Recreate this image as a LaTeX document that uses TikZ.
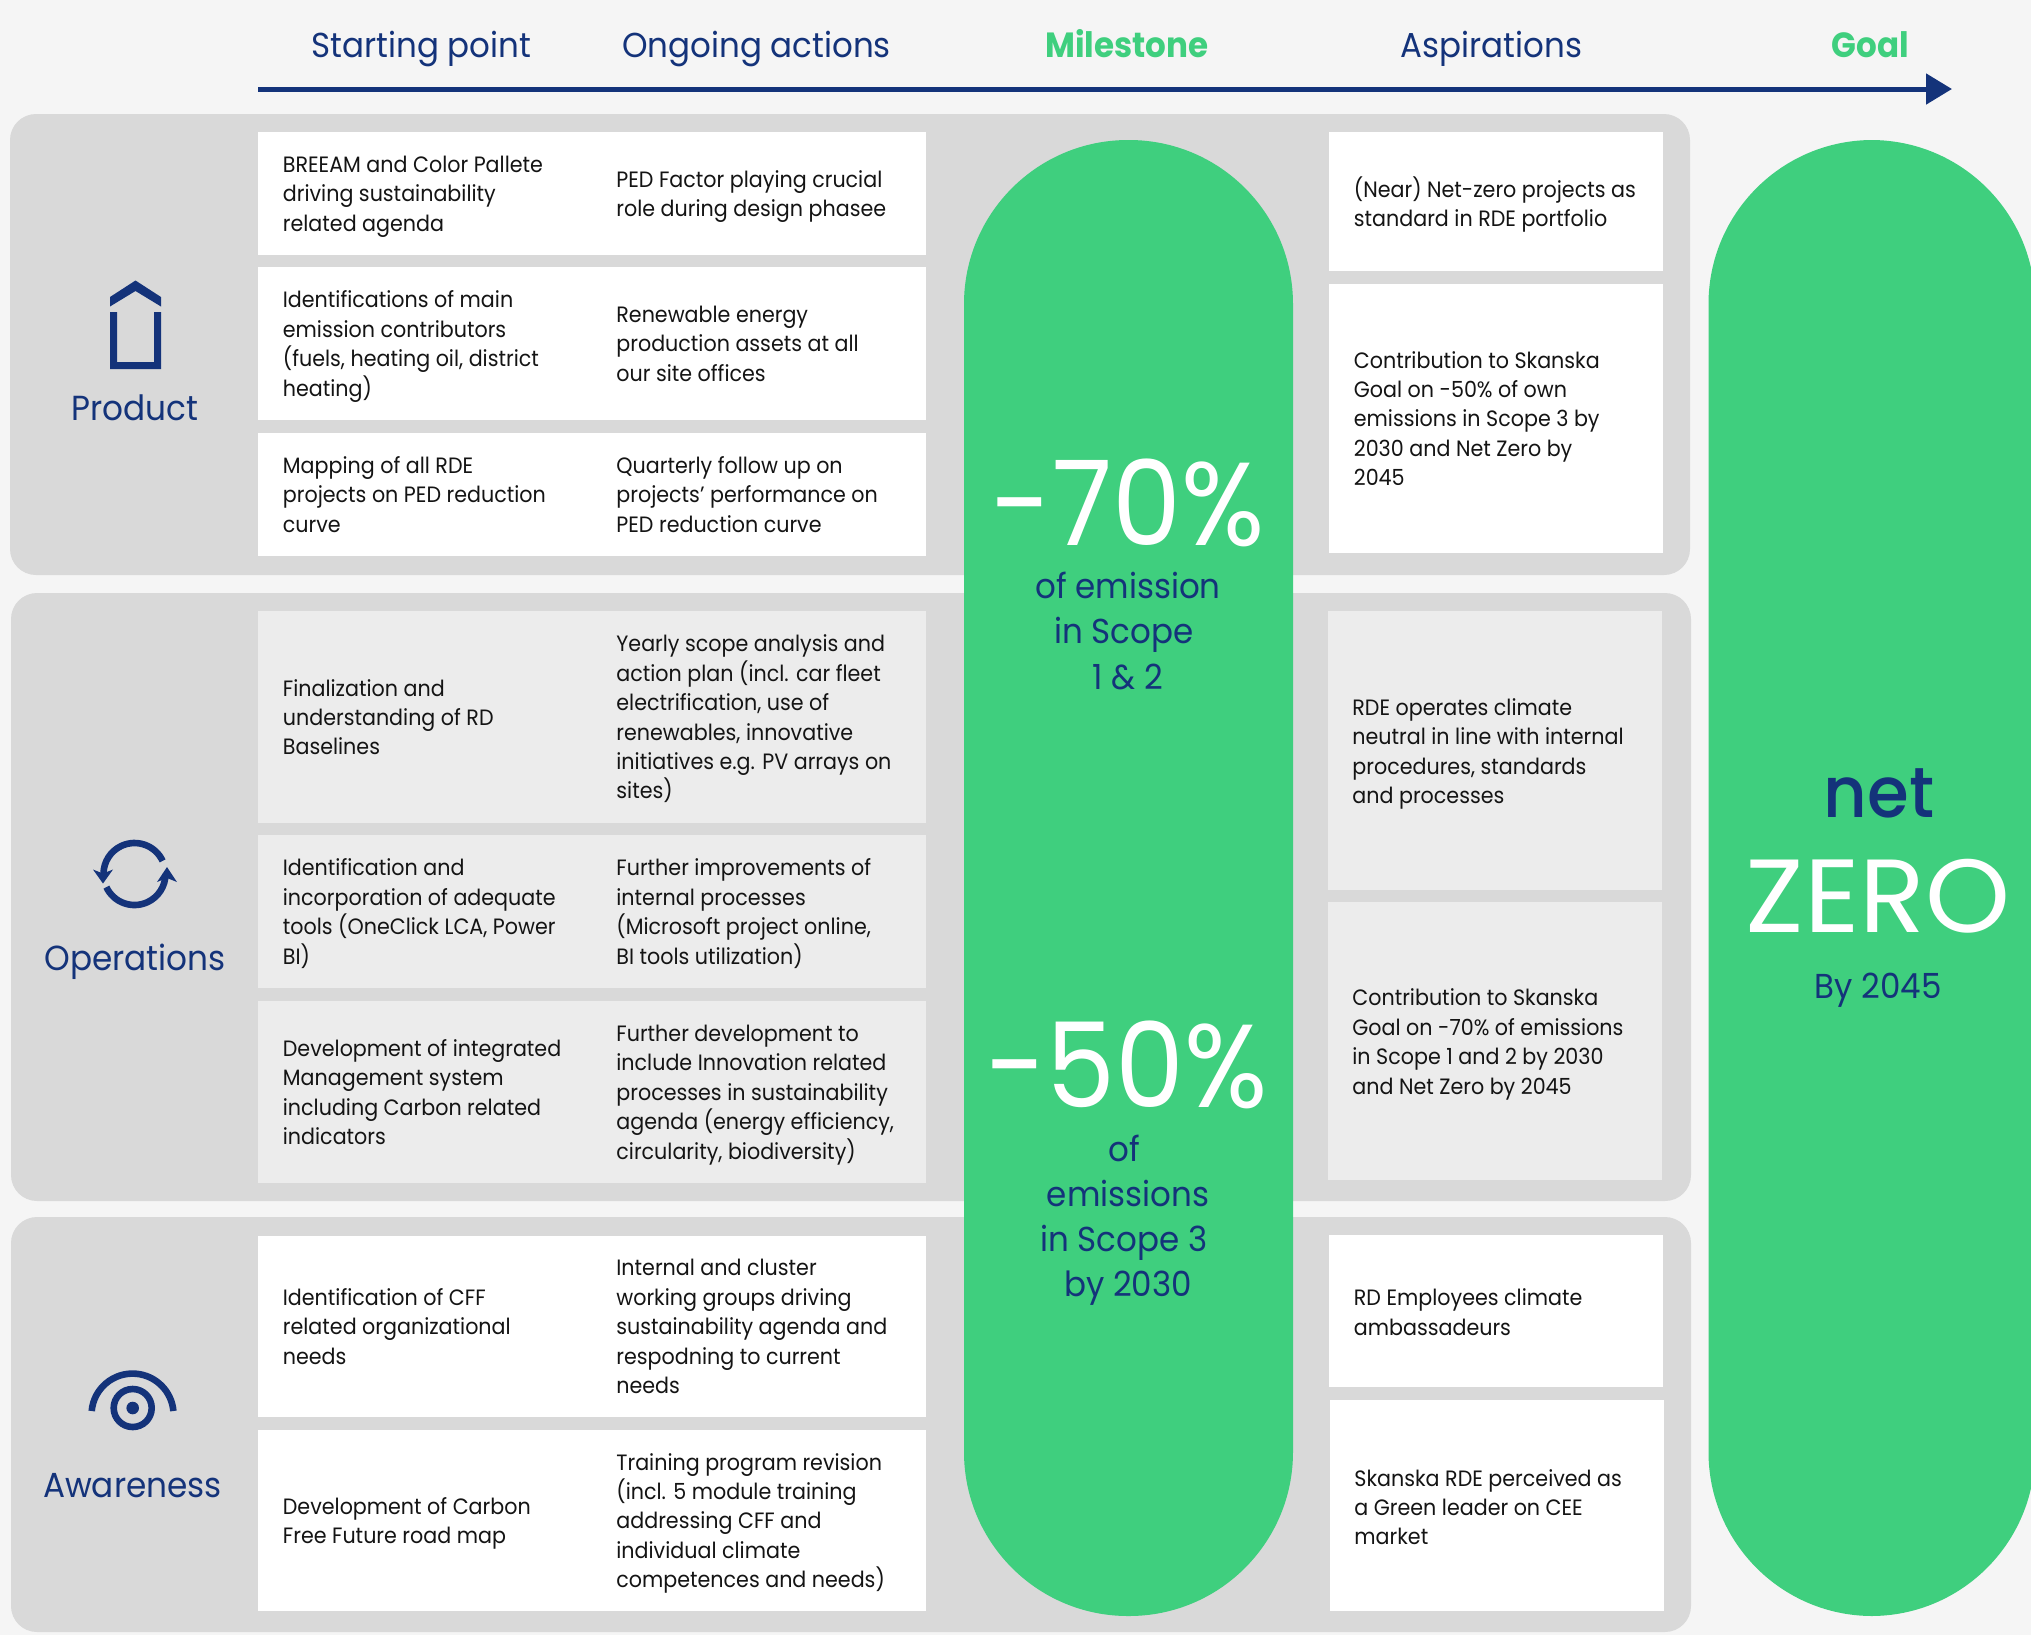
\documentclass[tikz,border=0pt]{standalone}
\usepackage{fontspec}
\setmainfont[FakeStretch=0.93]{Poppins}
\newfontfamily\headfont[FakeStretch=0.94]{Poppins}
\newfontfamily\bigfont[FakeStretch=0.93]{Poppins}
\newfontfamily\zerofont[FakeStretch=1.04]{Poppins}
\newfontfamily\mediumfont[FakeStretch=0.95,UprightFont={* Medium}]{Poppins}
\usetikzlibrary{arrows.meta}
\definecolor{pagebg}{HTML}{F5F5F5}
\definecolor{bandgrey}{HTML}{D9D9D9}
\definecolor{cellgrey}{HTML}{ECECEC}
\definecolor{leaf}{HTML}{3FCF7E}
\definecolor{navy}{HTML}{14337A}
\tikzset{
  body/.style={anchor=west,align=left,inner sep=0pt,yshift=-2.2pt,text=black!92,font=\fontsize{11.1}{14.7}\selectfont,
    execute at begin node={\strut},execute at end node={\strut}},
  head/.style={anchor=base,inner sep=0pt,text=navy,font=\headfont\fontsize{17.3}{20}\selectfont},
  headgreen/.style={anchor=base,inner sep=0pt,text=leaf,font=\fontsize{17.5}{20}\selectfont\bfseries},
  side/.style={anchor=base,inner sep=0pt,text=navy,font=\headfont\fontsize{17.4}{20}\selectfont},
  pilltext/.style={anchor=base,inner sep=0pt,text=navy,font=\headfont\fontsize{17.3}{20}\selectfont},
  bigtext/.style={anchor=base,inner sep=0pt,text depth=0pt,text=white,font=\bigfont\fontsize{59}{60}\selectfont},
  band/.style={fill=bandgrey,rounded corners=13pt},
  pill/.style={fill=leaf,rounded corners=82pt},
  iconline/.style={draw=navy,line width=3.3pt}
}
\newcommand{\wcell}[4]{\fill[white] (#1,#2) rectangle (#3,#4);}
\newcommand{\gcell}[4]{\fill[cellgrey] (#1,#2) rectangle (#3,#4);}
\begin{document}
\begin{tikzpicture}[x=0.5pt,y=-0.5pt]
\useasboundingbox (0,0) rectangle (2031,1635);
\clip (0,0) rectangle (2031,1635);
\fill[pagebg] (0,0) rectangle (2031,1635);
% bands
\fill[band] (10,114) rectangle (1690,575);
\fill[band] (11,593) rectangle (1691,1201);
\fill[band] (11,1217) rectangle (1691,1632);
% cells
\wcell{258}{132}{926}{255}
\wcell{258}{267}{926}{420}
\wcell{258}{433}{926}{556}
\gcell{258}{611}{926}{823}
\gcell{258}{835}{926}{988}
\gcell{258}{1001}{926}{1183}
\wcell{258}{1236}{926}{1417}
\wcell{258}{1430}{926}{1611}
\wcell{1329}{132}{1663}{271}
\wcell{1329}{284}{1663}{553}
\gcell{1328}{611}{1662}{890}
\gcell{1328}{902}{1662}{1180}
\wcell{1329}{1235}{1663}{1387}
\wcell{1330}{1400}{1664}{1611}
% pills
\fill[pill] (964,140) rectangle (1293,1616);
\fill[pill] (1708.5,140) rectangle (2035,1616);
% arrow
\coordinate (arrowstart) at (258,89);
\coordinate (arrowend) at (1952,89);
\draw[navy,line width=2.5pt,-{Triangle[length=13pt,width=15pt]}] (arrowstart) -- (arrowend);
% headers
\node[head] (h1) at (421.5,57.5) {Starting point};
\node[head] (h2) at (756.5,57.5) {Ongoing actions};
\node[headgreen] (h3) at (1127,57.5) {Milestone};
\node[head] (h4) at (1491.5,57.5) {Aspirations};
\node[headgreen] (h5) at (1870.5,57.5) {Goal};
% left column
\node[body] (a1) at (282.5,193.5) {BREEAM and Color Pallete\\driving sustainability\\related agenda};
\node[body] (a2) at (282.5,343.5) {Identifications of main\\emission contributors\\(fuels, heating oil, district\\heating)};
\node[body] (a3) at (282.5,494.5) {Mapping of all RDE\\projects on PED reduction\\curve};
\node[body] (a4) at (282.5,717) {Finalization and\\understanding of RD\\Baselines};
\node[body] (a5) at (282.5,911.5) {Identification and\\incorporation of adequate\\tools (OneClick LCA, Power\\BI)};
\node[body] (a6) at (282.5,1092) {Development of integrated\\Management system\\including Carbon related\\indicators};
\node[body] (a7) at (282.5,1326.5) {Identification of CFF\\related organizational\\needs};
\node[body] (a8) at (282.5,1520.5) {Development of Carbon\\Free Future road map};
% middle column
\node[body] (b1) at (616,193.5) {PED Factor playing crucial\\role during design phasee};
\node[body] (b2) at (616,343.5) {Renewable energy\\production assets at all\\our site offices};
\node[body] (b3) at (616,494.5) {Quarterly follow up on\\projects' performance on\\PED reduction curve};
\node[body] (b4) at (616,717) {Yearly scope analysis and\\action plan (incl. car fleet\\electrification, use of\\renewables, innovative\\initiatives e.g. PV arrays on\\sites)};
\node[body] (b5) at (616,911.5) {Further improvements of\\internal processes\\(Microsoft project online,\\BI tools utilization)};
\node[body] (b6) at (616,1092) {Further development to\\include Innovation related\\processes in sustainability\\agenda (energy efficiency,\\circularity, biodiversity)};
\node[body] (b7) at (616,1326.5) {Internal and cluster\\working groups driving\\sustainability agenda and\\respodning to current\\needs};
\node[body] (b8) at (616,1520.5) {Training program revision\\(incl. 5 module training\\addressing CFF and\\individual climate\\competences and needs)};
% right column
\node[body] (c1) at (1353.5,201.5) {(Near) Net-zero projects as\\standard in RDE portfolio};
\node[body] (c2) at (1353.5,418.5) {Contribution to Skanska\\Goal on -50\% of own\\emissions in Scope 3 by\\2030 and Net Zero by\\2045};
\node[body] (c3) at (1352,751) {RDE operates climate\\neutral in line with internal\\procedures, standards\\and processes};
\node[body] (c4) at (1352,1041.5) {Contribution to Skanska\\Goal on -70\% of emissions\\in Scope 1 and 2 by 2030\\and Net Zero by 2045};
\node[body] (c5) at (1353.5,1312) {RD Employees climate\\ambassadeurs};
\node[body] (c6) at (1354,1507) {Skanska RDE perceived as\\a Green leader on CEE\\market};
% side labels
\node[side] (s1) at (135,420) {Product};
\node[side] (s2) at (135,970) {Operations};
\node[side] (s3) at (132.5,1497.5) {Awareness};
% house icon
\fill[navy] (110,297) -- (135.5,280.5) -- (161,297) -- (161,306.5) -- (135.5,291) -- (110,306.5) -- cycle;
\fill[navy] (110,312) -- (117,312) -- (117,362) -- (154,362) -- (154,312) -- (161,312) -- (161,369) -- (110,369) -- cycle;
% sync icon
\draw[iconline] (162.6,860.9) arc[start angle=-25,end angle=-180,radius=31];
\fill[navy] (93,869.5) -- (103,873.5) -- (113,869.5) -- (103,883.5) -- cycle;
\draw[iconline] (106.4,887.1) arc[start angle=155,end angle=0,radius=31];
\fill[navy] (177,882) -- (167,878) -- (157,882) -- (167,867) -- cycle;
% eye icon
\draw[iconline] (91.7,1411) arc[start angle=-175,end angle=-5,radius=41];
\draw[iconline] (132.7,1408) circle[radius=19];
\fill[navy] (132.7,1408) circle[radius=6.3];
% milestone pill
\node[bigtext] (m1) at (1128,545.5) {-70\%};
\node[pilltext] (m2) at (1128,598.5) {of emission};
\node[pilltext] (m3) at (1124,643.5) {in Scope};
\node[pilltext] (m4) at (1128,689) {1 \& 2};
\node[bigtext] (m5) at (1127,1107) {-50\%};
\node[pilltext] (m6) at (1124,1161) {of};
\node[pilltext] (m7) at (1128,1206) {emissions};
\node[pilltext] (m8) at (1124,1251) {in Scope 3};
\node[pilltext] (m9) at (1128,1296) {by 2030};
% goal pill
\node[anchor=base,inner sep=0pt,text=navy,font=\mediumfont\fontsize{35.5}{36}\selectfont] (g1) at (1879,817) {net};
\node[anchor=base,inner sep=0pt,text=white,font=\zerofont\fontsize{52}{52}\selectfont] (g2) at (1878,932) {ZERO};
\node[pilltext] (g3) at (1878,998) {By 2045};
\end{tikzpicture}
\end{document}
